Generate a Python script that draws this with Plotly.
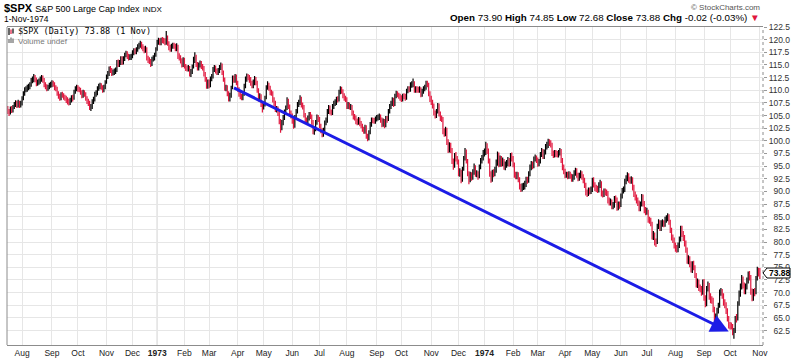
import plotly.graph_objects as go

# ---------------- data (daily bars, one inner list per month) ----------------
month_keys = ["1972-07", "1972-08", "1972-09", "1972-10", "1972-11", "1972-12",
              "1973-01", "1973-02", "1973-03", "1973-04", "1973-05", "1973-06",
              "1973-07", "1973-08", "1973-09", "1973-10", "1973-11", "1973-12",
              "1974-01", "1974-02", "1974-03", "1974-04", "1974-05", "1974-06",
              "1974-07", "1974-08", "1974-09", "1974-10", "1974-11"]
month_labels = ["Jul", "Aug", "Sep", "Oct", "Nov", "Dec",
                "<b>1973</b>", "Feb", "Mar", "Apr", "May", "Jun",
                "Jul", "Aug", "Sep", "Oct", "Nov", "Dec",
                "<b>1974</b>", "Feb", "Mar", "Apr", "May", "Jun",
                "Jul", "Aug", "Sep", "Oct", "Nov"]

close_by_month = [
    [105.90, 105.60, 106.40, 105.90, 106.70, 107.10, 107.50, 107.00, 107.60, 107.00, 107.40],
    [108.40, 109.30, 110.10, 110.15, 110.60, 110.70, 111.05, 111.95, 112.00, 112.55, 112.10, 111.35, 111.60, 111.80, 112.20, 112.40, 112.00, 111.10, 110.70, 110.40, 110.60, 110.95, 111.09],
    [111.50, 111.20, 110.55, 110.30, 109.40, 108.90, 108.50, 109.20, 109.00, 108.60, 108.40, 108.10, 107.80, 107.60, 108.00, 108.50, 108.40, 109.70, 110.30, 110.55],
    [110.15, 110.10, 109.60, 108.90, 109.60, 109.20, 108.40, 107.90, 107.50, 106.60, 106.77, 107.80, 108.20, 109.20, 109.50, 110.35, 110.70, 110.90, 110.60, 110.00, 110.60, 111.58],
    [112.67, 113.23, 114.22, 113.98, 113.35, 113.50, 113.73, 113.90, 115.53, 115.13, 115.49, 116.21, 115.53, 116.21, 116.90, 117.27, 116.72, 116.47, 116.52, 116.67],
    [117.38, 117.77, 117.58, 118.01, 118.60, 118.86, 119.12, 118.66, 118.24, 117.88, 118.26, 116.34, 115.95, 115.82, 115.11, 116.21, 116.30, 116.93, 118.05],
    [119.57, 119.73, 119.40, 119.87, 119.85, 119.73, 119.43, 120.24, 119.30, 118.44, 118.14, 118.68, 118.85, 118.78, 118.21, 118.78, 116.73, 116.45, 115.83, 115.01, 116.03],
    [114.76, 114.35, 114.23, 114.45, 113.16, 113.66, 114.68, 116.06, 116.78, 115.10, 114.45, 114.98, 115.40, 114.69, 114.44, 113.16, 112.19, 110.90, 111.68],
    [110.90, 112.28, 112.68, 114.10, 114.45, 113.79, 113.54, 113.86, 114.48, 114.98, 113.54, 112.17, 110.39, 110.49, 109.33, 108.33, 108.88, 110.49, 112.48, 112.00, 112.71, 111.52],
    [110.18, 109.24, 108.77, 108.52, 109.28, 110.86, 112.21, 112.68, 112.58, 112.08, 111.44, 110.94, 111.54, 112.17, 111.57, 109.99, 108.34, 108.89, 107.23, 106.97],
    [107.10, 108.43, 110.53, 111.00, 110.44, 109.54, 109.40, 108.10, 107.44, 106.20, 106.33, 105.41, 103.86, 102.73, 103.58, 104.60, 105.70, 106.50, 107.94, 106.80, 105.60, 104.95],
    [103.93, 102.97, 104.62, 105.84, 107.19, 107.55, 108.29, 107.08, 106.70, 105.10, 104.01, 103.99, 104.44, 105.21, 104.80, 103.70, 101.84, 102.25, 103.60, 104.69, 104.26],
    [103.01, 102.03, 101.28, 102.14, 103.56, 104.09, 105.80, 106.63, 105.67, 105.50, 106.80, 107.40, 107.60, 108.21, 108.14, 109.64, 110.28, 109.85, 108.94, 108.45, 108.22],
    [106.83, 107.17, 106.70, 106.73, 105.55, 104.75, 104.58, 103.85, 103.71, 104.17, 103.42, 103.00, 102.29, 101.91, 102.71, 100.89, 100.53, 101.62, 103.25, 104.05, 104.03, 103.88, 104.25],
    [104.51, 104.64, 104.76, 104.15, 103.22, 103.85, 103.06, 104.44, 104.15, 105.88, 106.76, 107.36, 108.05, 107.20, 108.83, 109.34, 109.08, 108.79, 108.43],
    [108.21, 108.79, 108.78, 108.41, 109.85, 110.23, 110.13, 111.09, 111.09, 111.44, 110.05, 110.19, 110.09, 110.01, 110.22, 109.16, 109.75, 110.27, 110.50, 111.38, 111.15, 109.33, 108.29],
    [107.69, 106.97, 105.52, 104.96, 105.80, 107.02, 105.30, 104.44, 104.36, 101.90, 101.40, 102.20, 99.80, 98.20, 99.10, 98.20, 96.00, 95.00, 97.10, 96.50, 95.96],
    [93.59, 93.90, 92.16, 94.49, 96.51, 97.95, 96.04, 93.57, 92.38, 93.29, 92.75, 93.81, 94.82, 93.38, 93.54, 92.90, 94.82, 96.00, 96.61, 97.55],
    [97.68, 98.90, 98.07, 96.12, 93.42, 92.39, 93.66, 93.50, 94.23, 95.67, 97.30, 95.40, 96.55, 95.56, 96.02, 94.88, 95.26, 95.52, 96.09, 95.56, 97.03, 96.57],
    [95.32, 93.29, 93.00, 93.26, 92.33, 90.98, 90.66, 90.94, 90.98, 91.46, 92.27, 92.12, 93.44, 94.71, 95.39, 95.03, 96.40, 96.63, 96.22],
    [95.53, 95.83, 97.32, 97.98, 96.94, 97.78, 98.88, 99.15, 99.74, 99.65, 99.28, 97.57, 97.23, 97.65, 97.34, 97.27, 97.64, 98.03, 96.20, 94.82, 93.98],
    [93.25, 93.35, 93.00, 93.40, 93.01, 92.50, 92.85, 93.60, 94.10, 93.20, 92.60, 93.10, 93.60, 92.90, 92.20, 91.30, 89.80, 89.57, 90.18, 90.00, 90.31],
    [92.22, 91.31, 90.71, 90.46, 90.31, 91.20, 91.64, 89.53, 89.40, 90.05, 89.77, 89.72, 88.21, 87.86, 87.91, 87.09, 87.29, 88.58, 88.37, 86.89, 87.43, 87.28],
    [89.10, 90.14, 90.31, 91.96, 92.55, 93.10, 92.28, 92.06, 92.34, 90.83, 89.45, 88.84, 88.21, 87.69, 86.69, 87.46, 88.98, 87.61, 86.31, 86.00],
    [86.02, 84.30, 84.25, 83.66, 81.09, 81.48, 79.99, 79.89, 83.15, 83.78, 82.81, 83.70, 83.78, 83.54, 84.38, 84.65, 84.99, 83.98, 82.40, 80.94, 80.50, 79.31],
    [78.75, 78.59, 79.29, 80.52, 82.65, 81.57, 80.86, 79.75, 78.49, 76.30, 76.73, 75.67, 74.57, 75.65, 74.95, 73.51, 71.55, 72.16, 70.94, 70.76, 69.99, 72.15],
    [68.90, 67.72, 70.87, 71.42, 69.24, 68.55, 68.54, 66.71, 64.94, 65.20, 66.45, 67.38, 70.09, 70.14, 69.42, 68.02, 67.57, 66.46, 64.94, 63.54],
    [63.39, 63.38, 62.28, 62.34, 64.95, 64.84, 67.82, 69.79, 71.14, 72.74, 71.44, 70.33, 71.17, 72.28, 73.50, 73.13, 70.22, 68.98, 70.12, 70.09, 72.83, 74.31, 73.90],
    [73.88],
]

high_by_month = [
    [106.9, 106.3, 106.8, 106.9, 107.1, 107.7, 108.0, 107.9, 108.1, 107.9, 107.9],
    [108.8, 109.8, 110.6, 110.8, 111.1, 111.3, 111.6, 112.4, 112.7, 113.2, 113.0, 112.5, 112.1, 112.3, 112.7, 113.0, 112.9, 112.4, 111.6, 111.2, 111.1, 111.5, 111.7],
    [112.0, 111.9, 111.6, 111.0, 110.7, 109.8, 109.3, 109.6, 109.7, 109.4, 109.1, 108.9, 108.6, 108.3, 108.5, 109.0, 109.1, 110.1, 110.8, 111.1],
    [111.0, 110.7, 110.5, 110.0, 110.1, 110.0, 109.6, 108.8, 108.3, 107.9, 107.3, 108.2, 108.7, 109.7, 110.0, 110.8, 111.3, 111.5, 111.4, 111.0, 111.1, 112.0],
    [113.1, 113.8, 114.7, 114.8, 114.4, 114.1, 114.3, 114.5, 116.0, 116.1, 116.0, 116.7, 116.7, 116.7, 117.4, 117.8, 117.7, 117.2, 117.1, 117.2],
    [117.9, 118.3, 118.3, 118.5, 119.1, 119.4, 119.8, 119.6, 119.1, 118.7, 118.8, 118.5, 116.8, 116.5, 116.2, 116.6, 116.9, 117.4, 118.5],
    [120.0, 120.4, 120.3, 120.4, 120.5, 120.4, 120.3, 121.7, 120.8, 119.7, 119.0, 119.2, 119.4, 119.4, 119.2, 119.3, 119.0, 117.3, 116.9, 116.3, 116.5],
    [116.4, 115.2, 114.9, 115.0, 114.8, 114.2, 115.1, 116.6, 117.5, 117.0, 115.6, 115.5, 115.9, 115.8, 115.2, 114.8, 113.6, 112.6, 112.1],
    [112.1, 112.7, 113.2, 114.6, 115.0, 114.9, 114.3, 114.4, 115.0, 115.5, 115.3, 113.9, 112.5, 111.1, 111.0, 109.8, 109.5, 110.9, 112.9, 112.9, 113.2, 113.1],
    [111.9, 110.6, 109.7, 109.3, 109.8, 111.3, 112.7, 113.3, 113.2, 113.0, 112.6, 111.9, 112.1, 112.8, 112.6, 111.9, 110.4, 109.4, 109.2, 107.7],
    [107.6, 108.9, 111.0, 111.8, 111.5, 110.9, 110.1, 109.8, 108.6, 107.9, 106.9, 106.8, 105.8, 104.3, 104.1, 105.1, 106.2, 107.0, 108.6, 108.3, 107.2, 106.0],
    [105.4, 104.4, 105.1, 106.3, 107.7, 108.1, 109.0, 108.7, 107.6, 107.1, 105.5, 104.6, 105.0, 105.7, 105.7, 105.2, 104.1, 102.8, 104.1, 105.2, 105.1],
    [104.7, 103.4, 102.5, 102.6, 104.0, 104.6, 106.3, 107.1, 107.0, 106.2, 107.3, 107.9, 108.2, 108.7, 108.8, 110.1, 110.8, 110.7, 110.2, 109.4, 108.9],
    [108.6, 107.7, 107.6, 107.3, 107.1, 106.0, 105.3, 105.0, 104.4, 104.7, 104.6, 103.9, 103.4, 102.8, 103.2, 103.1, 101.4, 102.1, 103.7, 104.6, 104.6, 104.5, 104.8],
    [105.1, 105.2, 105.4, 105.2, 104.6, 104.4, 104.3, 104.9, 104.9, 106.3, 107.3, 107.9, 108.6, 108.5, 109.3, 109.9, 109.8, 109.5, 109.3],
    [109.0, 109.3, 109.4, 109.3, 110.3, 110.8, 110.8, 111.6, 111.8, 112.3, 111.8, 110.8, 110.8, 110.7, 110.8, 110.6, 110.3, 110.8, 111.1, 111.9, 111.9, 111.5, 109.8],
    [108.9, 108.1, 107.4, 106.0, 106.3, 107.5, 107.4, 105.8, 105.0, 104.7, 102.5, 102.8, 102.6, 100.3, 99.7, 99.6, 98.6, 96.5, 97.6, 97.8, 97.0],
    [96.3, 94.6, 94.3, 94.9, 97.0, 98.6, 98.3, 96.4, 94.0, 93.9, 93.8, 94.4, 95.5, 95.2, 94.2, 94.0, 95.3, 96.6, 97.2, 98.2],
    [98.5, 99.8, 99.5, 98.5, 96.5, 94.0, 94.3, 94.4, 94.9, 96.3, 97.9, 97.7, 97.1, 97.0, 96.7, 96.4, 95.9, 96.2, 96.8, 96.6, 97.6, 97.7],
    [97.0, 95.7, 93.9, 93.9, 93.8, 92.8, 91.5, 91.6, 91.7, 92.1, 92.9, 92.9, 94.0, 95.3, 96.0, 95.9, 96.9, 97.3, 97.1],
    [96.7, 96.4, 97.8, 98.6, 98.4, 98.3, 99.4, 99.8, 100.4, 100.3, 100.1, 99.6, 98.1, 98.2, 98.2, 98.0, 98.2, 98.6, 98.4, 96.6, 95.3],
    [94.5, 93.9, 93.9, 94.0, 93.9, 93.5, 93.4, 94.2, 94.7, 94.6, 93.7, 93.7, 94.2, 94.0, 93.4, 92.7, 91.7, 90.4, 90.8, 90.8, 91.0],
    [92.7, 92.8, 91.8, 91.3, 91.1, 91.8, 92.3, 92.0, 90.2, 90.6, 90.6, 90.4, 90.1, 88.8, 88.6, 88.4, 87.9, 89.1, 89.2, 88.8, 88.0, 88.0],
    [89.6, 90.7, 91.0, 92.5, 93.2, 93.8, 93.6, 92.9, 93.0, 92.8, 91.3, 90.0, 89.4, 88.8, 88.2, 88.0, 89.5, 89.4, 88.1, 86.9],
    [86.8, 86.4, 85.0, 84.8, 84.0, 82.2, 81.9, 80.7, 83.6, 84.5, 84.3, 84.3, 84.5, 84.3, 85.0, 85.3, 85.7, 85.5, 84.4, 82.8, 81.5, 80.9],
    [79.9, 79.4, 79.9, 81.1, 83.2, 83.2, 82.2, 81.4, 80.3, 78.9, 77.4, 77.2, 76.2, 76.2, 76.3, 75.4, 73.9, 72.8, 72.6, 71.6, 71.3, 72.6],
    [72.7, 69.5, 71.3, 72.2, 71.9, 69.9, 69.3, 69.0, 67.2, 65.9, 67.0, 68.0, 70.6, 70.9, 70.7, 69.9, 68.7, 68.1, 66.9, 65.4],
    [64.2, 64.1, 63.8, 63.0, 65.4, 65.8, 68.3, 70.4, 71.8, 73.5, 73.2, 72.0, 71.8, 73.0, 74.2, 74.3, 73.5, 70.8, 70.7, 70.9, 73.3, 75.1, 74.9],
    [74.85],
]

low_by_month = [
    [105.3, 104.9, 105.2, 105.5, 105.6, 106.3, 106.7, 106.5, 106.6, 106.5, 106.6],
    [107.0, 108.0, 108.9, 109.6, 109.7, 110.0, 110.2, 110.7, 111.4, 111.6, 111.6, 110.8, 110.9, 111.1, 111.3, 111.7, 111.5, 110.6, 110.2, 109.8, 109.9, 110.2, 110.5],
    [110.6, 110.7, 110.0, 109.8, 108.9, 108.3, 107.9, 108.0, 108.5, 108.1, 107.9, 107.5, 107.2, 107.0, 107.1, 107.6, 107.8, 108.1, 109.3, 109.8],
    [109.7, 109.6, 109.1, 108.4, 108.5, 108.7, 107.9, 107.3, 106.9, 106.1, 105.9, 106.3, 107.3, 107.8, 108.7, 109.0, 109.9, 110.2, 110.1, 109.5, 109.6, 110.2],
    [111.3, 112.2, 112.8, 113.4, 112.8, 112.9, 113.0, 113.2, 113.6, 114.6, 114.6, 115.0, 115.0, 115.1, 115.8, 116.5, 116.2, 115.9, 116.0, 116.0],
    [116.3, 116.9, 117.1, 117.1, 117.6, 118.1, 118.4, 118.1, 117.7, 117.3, 117.4, 115.9, 115.4, 115.2, 114.6, 114.8, 115.7, 115.9, 116.6],
    [117.8, 119.0, 118.9, 118.9, 119.3, 119.2, 118.9, 119.0, 118.8, 117.9, 117.6, 117.6, 118.2, 118.2, 117.7, 117.7, 116.2, 115.9, 115.3, 114.5, 114.6],
    [114.3, 113.8, 113.7, 113.7, 112.7, 112.6, 113.2, 114.3, 115.4, 114.6, 113.9, 113.9, 114.5, 114.2, 113.9, 112.7, 111.7, 110.3, 110.3],
    [110.4, 110.6, 111.8, 112.3, 113.6, 113.3, 113.0, 113.0, 113.4, 114.0, 113.0, 111.7, 109.9, 109.8, 108.8, 107.8, 107.8, 108.5, 110.2, 111.5, 111.5, 111.0],
    [109.7, 108.7, 108.2, 108.0, 108.0, 108.9, 110.4, 111.7, 112.0, 111.5, 110.9, 110.4, 110.4, 111.0, 111.0, 109.5, 107.8, 107.7, 106.7, 105.6],
    [106.2, 106.8, 108.2, 110.1, 109.9, 109.0, 108.9, 107.6, 106.9, 105.7, 105.6, 104.9, 103.3, 101.6, 102.1, 103.1, 104.1, 105.2, 106.1, 106.3, 105.1, 104.4],
    [103.4, 102.4, 102.6, 104.2, 105.4, 106.7, 107.1, 106.6, 106.2, 104.6, 103.5, 103.4, 103.5, 104.0, 104.3, 103.2, 101.3, 101.2, 101.9, 103.2, 103.7],
    [102.5, 101.5, 100.7, 100.8, 101.7, 103.1, 103.6, 105.3, 105.2, 105.0, 105.1, 106.3, 106.9, 107.1, 107.6, 107.8, 109.2, 109.3, 108.4, 107.9, 107.7],
    [106.3, 106.3, 106.2, 106.1, 105.0, 104.2, 104.0, 103.3, 103.1, 103.2, 102.9, 102.5, 101.8, 101.4, 101.4, 100.4, 99.9, 100.1, 101.3, 102.8, 103.5, 103.4, 103.4],
    [103.8, 104.0, 104.1, 103.6, 102.7, 102.8, 102.5, 102.7, 103.6, 103.9, 105.4, 106.3, 106.9, 106.7, 106.9, 108.4, 108.6, 108.3, 107.9],
    [107.7, 107.8, 108.2, 107.9, 108.1, 109.4, 109.6, 109.7, 110.5, 110.6, 109.5, 109.5, 109.5, 109.5, 109.5, 108.6, 108.7, 109.3, 109.8, 110.1, 110.6, 108.8, 107.7],
    [107.1, 106.4, 105.0, 104.4, 104.5, 105.4, 104.8, 103.9, 103.7, 101.3, 100.8, 100.9, 99.2, 97.6, 97.7, 97.6, 95.4, 94.3, 94.7, 95.9, 95.3],
    [93.0, 92.9, 91.6, 91.9, 94.1, 96.1, 95.5, 93.0, 91.4, 91.8, 92.1, 92.3, 93.3, 92.9, 92.8, 92.3, 92.6, 94.4, 95.5, 96.1],
    [96.9, 97.2, 97.4, 95.5, 92.9, 91.7, 91.9, 92.8, 93.0, 93.7, 95.1, 94.8, 94.9, 94.9, 95.0, 94.3, 94.2, 94.7, 95.0, 94.9, 95.0, 95.9],
    [94.8, 92.7, 92.4, 92.4, 91.8, 90.4, 89.9, 90.0, 90.3, 90.4, 90.9, 91.5, 91.7, 93.0, 94.2, 94.4, 94.6, 95.9, 95.6],
    [94.9, 95.0, 95.5, 96.8, 96.4, 96.4, 97.3, 98.3, 98.6, 99.0, 98.7, 97.0, 96.6, 96.7, 96.8, 96.7, 96.7, 97.1, 95.6, 94.2, 93.4],
    [92.6, 92.7, 92.4, 92.5, 92.5, 91.9, 91.9, 92.3, 93.1, 92.7, 92.0, 92.1, 92.6, 92.3, 91.6, 90.7, 89.2, 88.9, 89.1, 89.4, 89.5],
    [89.9, 90.8, 90.1, 89.9, 89.7, 89.8, 90.7, 89.0, 88.8, 88.9, 89.2, 89.1, 87.6, 87.2, 87.2, 86.5, 86.5, 86.8, 87.7, 86.2, 86.3, 86.6],
    [86.9, 88.6, 89.6, 89.9, 91.4, 92.0, 91.7, 91.5, 91.5, 90.2, 88.9, 88.2, 87.6, 87.1, 86.1, 86.1, 87.0, 87.0, 85.7, 85.3],
    [85.4, 83.8, 83.6, 83.1, 80.5, 80.4, 79.3, 79.0, 79.6, 82.6, 82.2, 82.2, 83.0, 82.9, 83.0, 83.8, 84.1, 83.4, 81.8, 80.3, 79.8, 78.7],
    [78.1, 77.9, 78.0, 78.8, 80.1, 81.0, 80.2, 79.1, 77.9, 75.7, 75.6, 75.0, 74.0, 73.9, 74.4, 72.9, 71.0, 70.9, 70.3, 70.1, 69.4, 69.6],
    [68.4, 67.1, 67.3, 70.2, 68.6, 67.9, 67.8, 66.1, 64.3, 64.2, 64.7, 65.9, 67.0, 69.4, 68.8, 67.4, 66.9, 65.8, 64.3, 62.9],
    [62.7, 62.7, 61.6, 60.9, 62.0, 64.1, 64.5, 67.4, 69.2, 70.6, 70.8, 69.7, 69.7, 70.6, 71.8, 72.4, 69.6, 68.3, 68.4, 69.3, 69.7, 72.4, 73.2],
    [72.68],
]

prior_close = 106.50          # close of 14-Jul-1972 = open of the first bar
price_ticks = [62.5, 65.0, 67.5, 70.0, 72.5, 75.0, 77.5, 80.0, 82.5, 85.0, 87.5, 90.0,
               92.5, 95.0, 97.5, 100.0, 102.5, 105.0, 107.5, 110.0, 112.5, 115.0,
               117.5, 120.0, 122.5]
# hand-drawn trend arrow: (month, trading-day within month, price)
trend_from = ("1973-03", 18, 110.6)
trend_to = ("1974-09", 19, 62.3)

# ---------------- build series ----------------
for k, (c, h, l) in enumerate(zip(close_by_month, high_by_month, low_by_month)):
    if not (len(c) == len(h) == len(l)):
        raise ValueError(f"length mismatch in {month_keys[k]}: {len(c)} {len(h)} {len(l)}")

month_start = []
closes, highs, lows = [], [], []
for c, h, l in zip(close_by_month, high_by_month, low_by_month):
    month_start.append(len(closes))
    closes += c
    highs += h
    lows += l
opens = [prior_close] + closes[:-1]   # this era's data opens at the prior close
xs = list(range(len(closes)))

def bar_index(key, offset):
    return month_start[month_keys.index(key)] + offset

last_o, last_h, last_l, last_c = opens[-1], highs[-1], lows[-1], closes[-1]
chg = last_c - opens[-1]
chg_pct = chg / opens[-1] * 100

RED = "#e0163d"
FONT = "Liberation Sans"

fig = go.Figure()
fig.add_trace(go.Ohlc(
    x=xs, open=opens, high=highs, low=lows, close=closes,
    increasing=dict(line=dict(color="#000000", width=1.2)),
    decreasing=dict(line=dict(color=RED, width=1.2)),
    tickwidth=0.3, hoverinfo="skip", showlegend=False,
))

# pixel helpers for text placement (plot area: x 7..763, y 27..345)
L, R, T, B = 7, 763, 27, 345
def px(x):
    return (x - L) / (R - L)
def py(y):
    return (B - y) / (B - T)

ann = []
ann.append(dict(x=px(2), y=py(8), xref="paper", yref="paper", xanchor="left", yanchor="middle",
                showarrow=False,
                text="<b>$SPX</b> <span style='font-size:9px'>S&amp;P 500 Large Cap Index</span> "
                     "<span style='font-size:8px'>INDX</span>",
                font=dict(family=FONT, size=11, color="#000")))
ann.append(dict(x=px(2), y=py(19), xref="paper", yref="paper", xanchor="left", yanchor="middle",
                showarrow=False, text="1-Nov-1974",
                font=dict(family=FONT, size=8.5, color="#000")))
ann.append(dict(x=px(762), y=py(7), xref="paper", yref="paper", xanchor="right", yanchor="middle",
                showarrow=False, text="© StockCharts.com",
                font=dict(family=FONT, size=8, color="#555")))
ann.append(dict(x=px(762), y=py(18), xref="paper", yref="paper", xanchor="right", yanchor="middle",
                showarrow=False,
                text=(f"<b>Open</b> {last_o:.2f} <b>High</b> {last_h:.2f} <b>Low</b> {last_l:.2f} "
                      f"<b>Close</b> {last_c:.2f} <b>Chg</b> {chg:.2f} ({chg_pct:.2f}%) "
                      f"<span style='color:{RED}'>▼</span>"),
                font=dict(family=FONT, size=9.8, color="#000")))
ann.append(dict(x=px(16), y=py(31), xref="paper", yref="paper", xanchor="left", yanchor="middle",
                showarrow=False, text=f"$SPX (Daily) {last_c:.2f} (1 Nov)",
                font=dict(family="DejaVu Sans Mono", size=8.5, color="#000")))
ann.append(dict(x=px(16), y=py(41), xref="paper", yref="paper", xanchor="left", yanchor="middle",
                showarrow=False, text="Volume undef",
                font=dict(family=FONT, size=8, color="#777")))
# last-price tag text
ann.append(dict(x=1, y=last_c, xref="paper", yref="y", xanchor="left", yanchor="middle",
                xshift=4, showarrow=False, text=f"<b>{last_c:.2f}</b>",
                font=dict(family=FONT, size=8.5, color="#000")))
# trend arrow
ann.append(dict(x=bar_index(trend_to[0], trend_to[1]), y=trend_to[2], xref="x", yref="y",
                ax=bar_index(trend_from[0], trend_from[1]), ay=trend_from[2], axref="x", ayref="y",
                showarrow=True, arrowhead=2, arrowsize=1.2, arrowwidth=3, arrowcolor="#1c1ce6",
                standoff=0, text=""))

shapes = []
# darker year lines
for key in ("1973-01", "1974-01"):
    xi = month_start[month_keys.index(key)]
    shapes.append(dict(type="line", xref="x", yref="paper", x0=xi, x1=xi, y0=0, y1=1,
                       line=dict(color="#c4c4c4", width=1), layer="below"))
# left border and dotted right axis
shapes.append(dict(type="line", xref="paper", yref="paper", x0=0, x1=0, y0=0, y1=1,
                   line=dict(color="#8c8c8c", width=1)))
shapes.append(dict(type="line", xref="paper", yref="paper", x0=1, x1=1, y0=0, y1=1,
                   line=dict(color="#8c8c8c", width=1, dash="dot")))
# price tag outline
shapes.append(dict(type="path", xref="paper", yref="y", xsizemode="pixel", ysizemode="pixel",
                   xanchor=1, yanchor=last_c,
                   path="M 0 0 L 4 5 L 27 5 L 27 -5 L 4 -5 Z",
                   line=dict(color="#000", width=1), fillcolor="white"))
# legend icons
for dx, y0, y1, col in [(9, 28, 35, "#000"), (11, 29.5, 34, RED), (13, 28.5, 33.5, "#000")]:
    shapes.append(dict(type="line", xref="paper", yref="paper", x0=px(dx), x1=px(dx),
                       y0=py(y1), y1=py(y0), line=dict(color=col, width=1.2)))
for dx, ytop in [(9, 39), (11, 37.5), (13, 38.5)]:
    shapes.append(dict(type="line", xref="paper", yref="paper", x0=px(dx), x1=px(dx),
                       y0=py(43), y1=py(ytop), line=dict(color="#888", width=1.5)))

y_text = [f"{v:.1f}" if v >= 100 else "\u2007" + f"{v:.1f}" for v in price_ticks]

fig.update_layout(
    width=800, height=359,
    margin=dict(l=L, r=800 - R, t=T, b=359 - B, autoexpand=False),
    paper_bgcolor="white", plot_bgcolor="white",
    showlegend=False,
    annotations=ann, shapes=shapes,
    xaxis=dict(
        range=[-0.6, 581.4], tickmode="array",
        tickvals=month_start[1:], ticktext=month_labels[1:],
        showgrid=True, gridcolor="#e6e6e6", gridwidth=1, zeroline=False,
        showline=True, mirror=True, linecolor="#8c8c8c", linewidth=1,
        ticks="", tickfont=dict(family=FONT, size=8.5, color="#222"),
        rangeslider=dict(visible=False), fixedrange=True, automargin=False,
    ),
    yaxis=dict(
        side="right", range=[59.65, 122.5], tickmode="array",
        tickvals=price_ticks, ticktext=y_text,
        showgrid=True, gridcolor="#e6e6e6", gridwidth=1, zeroline=False,
        showline=False, ticks="outside", ticklen=3, tickcolor="#999",
        tickfont=dict(family=FONT, size=8.5, color="#333"), fixedrange=True, automargin=False,
    ),
)

fig.write_html("out.html",
               config={"displayModeBar": False, "staticPlot": True},
               post_script="document.body.style.margin='0';document.body.style.padding='0';"
                           "document.documentElement.style.overflow='hidden';")
